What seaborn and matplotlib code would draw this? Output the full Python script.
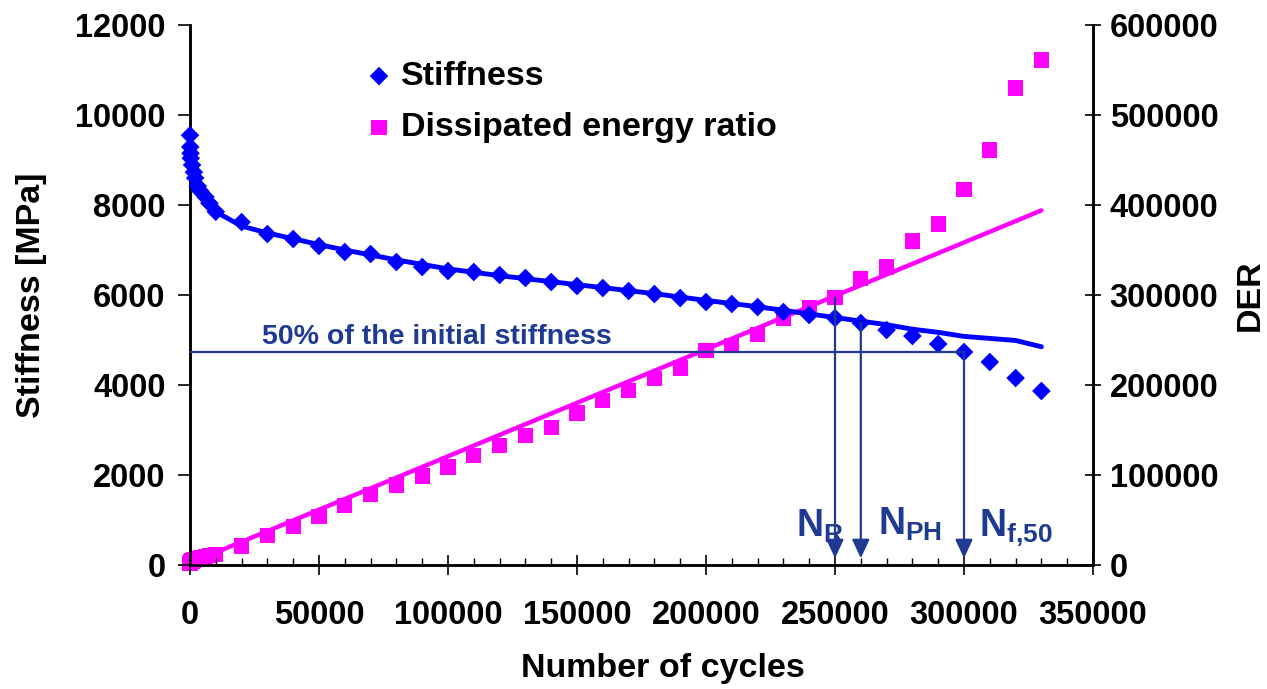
import numpy as np
import pandas as pd
import matplotlib
matplotlib.use("Agg")
import matplotlib.pyplot as plt
from matplotlib.ticker import MultipleLocator, FuncFormatter
import seaborn as sns

# ---------------- data ----------------
cycles = [0, 100, 200, 300, 800, 1500, 2000, 3000, 4000, 6000, 7500, 10000,
          20000, 30000, 40000, 50000, 60000, 70000, 80000, 90000, 100000,
          110000, 120000, 130000, 140000, 150000, 160000, 170000, 180000,
          190000, 200000, 210000, 220000, 230000, 240000, 250000, 260000,
          270000, 280000, 290000, 300000, 310000, 320000, 330000]
stiffness = [9550, 9290, 9150, 9040, 8890, 8730, 8600, 8420, 8310, 8180, 8040, 7850,
             7620, 7355, 7244, 7089, 6955, 6911, 6733, 6622, 6533,
             6511, 6444, 6378, 6289, 6200, 6155, 6089, 6022,
             5933, 5844, 5800, 5733, 5622, 5555, 5489, 5378,
             5222, 5089, 4911, 4733, 4511, 4155, 3867]
der = [2000, 2500, 3000, 3500, 4500, 5500, 6000, 7000, 8000, 9500, 10500, 12000,
       21000, 33000, 43000, 54000, 66000, 78000, 89000, 99000, 109000,
       122000, 133000, 144000, 153000, 169000, 183000, 194000, 207000,
       219000, 238000, 244000, 256000, 274000, 286000, 297000, 318000,
       331000, 360000, 379000, 417000, 461000, 530000, 561000]

stiff_fit_cycles = [0, 1000, 2000, 4000, 6000, 10000, 20000, 30000, 40000, 50000,
                    60000, 80000, 100000, 120000, 150000, 180000, 200000, 220000,
                    250000, 260000, 270000, 280000, 290000, 300000, 320000, 330000]
stiff_fit = [9200, 8850, 8600, 8300, 8100, 7850, 7530, 7380, 7250, 7120,
             7000, 6780, 6580, 6430, 6230, 6030, 5880, 5740,
             5500, 5420, 5340, 5240, 5170, 5080, 4990, 4850]

der_fit_cycles = [0, 330000]
der_fit = [2000, 394000]

half_stiffness = 4730
half_line_cycles = [0, 300000]
arrow_cycles = [250000, 260000, 300000]
arrow_tops = [5940, 5380, half_stiffness]
arrow_labels = [r'$\mathbf{N_{R}}$', r'$\mathbf{N_{PH}}$', r'$\mathbf{N_{f{,}50}}$']
arrow_label_x = [234900, 266700, 305800]
arrow_label_y = [622, 667, 622]

x_ticks = [0, 50000, 100000, 150000, 200000, 250000, 300000, 350000]
left_ticks = [0, 2000, 4000, 6000, 8000, 10000, 12000]
right_ticks = [0, 100000, 200000, 300000, 400000, 500000, 600000]

df = pd.DataFrame({"cycles": cycles, "stiffness": stiffness, "der": der})
df_sfit = pd.DataFrame({"cycles": stiff_fit_cycles, "stiffness": stiff_fit})
df_dfit = pd.DataFrame({"cycles": der_fit_cycles, "der": der_fit})

# ---------------- style ----------------
sns.set_style("ticks")
plt.rcParams['font.family'] = ['Liberation Sans', 'DejaVu Sans']
plt.rcParams['font.weight'] = 'bold'
plt.rcParams['text.color'] = 'black'
plt.rcParams['axes.labelcolor'] = 'black'
plt.rcParams['xtick.color'] = 'black'
plt.rcParams['ytick.color'] = 'black'
plt.rcParams['xtick.labelcolor'] = 'black'
plt.rcParams['ytick.labelcolor'] = 'black'
plt.rcParams['mathtext.fontset'] = 'custom'
plt.rcParams['mathtext.rm'] = 'Liberation Sans:bold'
plt.rcParams['mathtext.bf'] = 'Liberation Sans:bold'
plt.rcParams['mathtext.it'] = 'Liberation Sans:bold'

NAVY = '#1F3A93'
BLUE = '#0000FF'
MAGENTA = '#FF00FF'

fig = plt.figure(figsize=(12.67, 6.89), dpi=100)
ax = fig.add_axes([190 / 1267, 1 - 565 / 689, 903 / 1267, 540 / 689])
ax2 = ax.twinx()

# stiffness
sns.lineplot(data=df_sfit, x="cycles", y="stiffness", ax=ax, color=BLUE, lw=3.5,
             sort=False, zorder=3)
sns.scatterplot(data=df, x="cycles", y="stiffness", ax=ax, marker='D', s=90,
                color=BLUE, edgecolor='none', linewidth=0, label='Stiffness',
                clip_on=False, zorder=4)

# DER
sns.lineplot(data=df_dfit, x="cycles", y="der", ax=ax2, color=MAGENTA, lw=3.2,
             sort=False, zorder=3)
sns.scatterplot(data=df, x="cycles", y="der", ax=ax2, marker='s', s=120,
                color=MAGENTA, edgecolor='none', linewidth=0,
                label='Dissipated energy ratio', clip_on=False, zorder=4)

# 50% line and text
ax.plot(half_line_cycles, [half_stiffness, half_stiffness], color=NAVY, lw=1.6, zorder=5)
ax.text(27900, 4911, '50% of the initial stiffness', color=NAVY, fontsize=20.5,
        fontweight='bold', ha='left', va='baseline')

# arrows
for xc, yt in zip(arrow_cycles, arrow_tops):
    ax.annotate('', xy=(xc, 150), xytext=(xc, yt),
                arrowprops=dict(arrowstyle='-|>,head_length=0.6,head_width=0.28',
                                color=NAVY, lw=1.6, mutation_scale=19,
                                shrinkA=0, shrinkB=0), zorder=6)
for lx, ly, lab in zip(arrow_label_x, arrow_label_y, arrow_labels):
    ax.text(lx, ly, lab, color=NAVY, fontsize=27, ha='left', va='baseline')

# axes limits & ticks
ax.set_xlim(0, 350000)
ax.set_ylim(0, 12000)
ax2.set_ylim(0, 600000)
ax.set_xticks(x_ticks)
ax.xaxis.set_minor_locator(MultipleLocator(10000))
ax.set_yticks(left_ticks)
ax2.set_yticks(right_ticks)
fmt = FuncFormatter(lambda v, p: f"{int(round(v))}")
ax.xaxis.set_major_formatter(fmt)
ax.yaxis.set_major_formatter(fmt)
ax2.yaxis.set_major_formatter(fmt)

ax.tick_params(axis='x', which='major', direction='inout', length=14, width=1.2,
               pad=18, labelsize=23.5, colors='black')
ax.tick_params(axis='x', which='minor', direction='in', length=5, width=1.0, colors='black')
ax.tick_params(axis='y', which='major', direction='out', length=8.5, width=1.2,
               pad=9, labelsize=23.5, colors='black')
ax2.tick_params(axis='y', which='major', direction='inout', length=12, width=1.2,
                pad=6, labelsize=23.5, colors='black')
for a in (ax, ax2):
    for lab in a.get_xticklabels() + a.get_yticklabels():
        lab.set_fontweight('bold')
        lab.set_color('black')
    a.spines['top'].set_visible(False)
    for s in ('left', 'right', 'bottom'):
        a.spines[s].set_linewidth(1.8)
        a.spines[s].set_color('black')

ax.set_xlabel('Number of cycles', fontsize=24.5, fontweight='bold', va='center', color='black')
ax.xaxis.set_label_coords(0.524, -0.191)
ax.set_ylabel('Stiffness [MPa]', fontsize=24.5, fontweight='bold', va='center', ha='center',
              color='black')
ax.yaxis.set_label_coords(-0.176, 0.5)
ax2.set_ylabel('DER', fontsize=24.5, fontweight='bold', va='center', ha='center', rotation=90,
               color='black')
ax2.yaxis.set_label_coords(1.174, 0.5)

# legend
h1, l1 = ax.get_legend_handles_labels()
h2, l2 = ax2.get_legend_handles_labels()
if ax.get_legend():
    ax.get_legend().remove()
if ax2.get_legend():
    ax2.get_legend().remove()
leg = ax2.legend(h1 + h2, l1 + l2, loc='center left', bbox_to_anchor=(0.198, 0.857),
                 frameon=False, prop={'weight': 'bold', 'size': 24.5},
                 handlelength=0.6, handletextpad=0.35, labelspacing=0.6,
                 borderpad=0, borderaxespad=0)
for t in leg.get_texts():
    t.set_color('black')

ax.set_zorder(ax2.get_zorder() + 1)
ax.patch.set_visible(False)

fig.savefig('out.png', dpi=100)
